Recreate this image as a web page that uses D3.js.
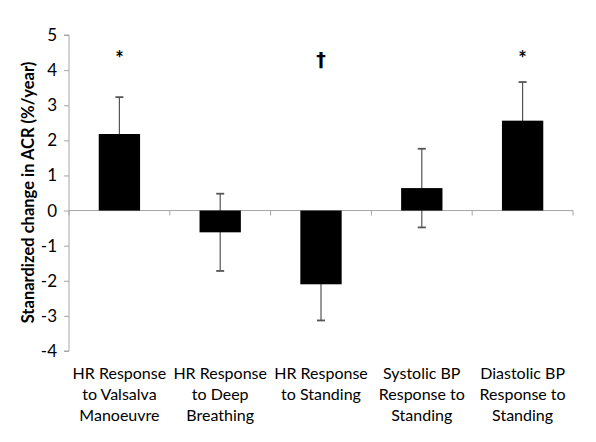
<!DOCTYPE html>
<html><head><meta charset="utf-8">
<script src="https://cdn.jsdelivr.net/npm/d3@7"></script>
<style>body{margin:0;background:#fff}svg{display:block}</style>
</head><body>
<svg id="c" width="596" height="442"></svg>
<script>
const categories = [
  ["HR Response","to Valsalva","Manoeuvre"],
  ["HR Response","to Deep","Breathing"],
  ["HR Response","to Standing"],
  ["Systolic BP","Response to","Standing"],
  ["Diastolic BP","Response to","Standing"]
];
const values = [2.18, -0.62, -2.10, 0.64, 2.56];
const errors = [1.05, 1.10, 1.03, 1.12, 1.10];
const marks = ["*", "", "\u2020", "", "*"];
const yTicks = [5,4,3,2,1,0,-1,-2,-3,-4];
const yLabel = "Stanardized change in ACR (%/year)";

const svg = d3.select("#c");
const font = "Lato, 'Open Sans', sans-serif";
const mLeft = 69, mRight = 573, mTop = 35, mBottom = 351;
const x = d3.scaleBand().domain(d3.range(categories.length)).range([mLeft, mRight]).padding(0);
const y = d3.scaleLinear().domain([-4, 5]).range([mBottom, mTop]);
const bw = x.bandwidth() * 0.41;
const axisColor = "#a6a6a6";

// y axis
const yAxis = svg.append("g").attr("transform", `translate(${mLeft},0)`)
  .call(d3.axisLeft(y).tickValues(yTicks).tickSize(5).tickPadding(7).tickFormat(d3.format("d")));
yAxis.select(".domain").attr("stroke", axisColor).attr("d", `M-5,${mBottom}H0V${mTop}H-5`);
yAxis.selectAll(".tick line").attr("stroke", axisColor);
yAxis.selectAll("text").attr("font-family", font).attr("font-size", 17).attr("fill", "#000")
  .text(d => d < 0 ? "-" + Math.abs(d) : d);

// x axis at zero
const xTicks = d3.range(categories.length + 1).map(i => mLeft + i * x.step());
svg.append("line").attr("x1", mLeft).attr("x2", mRight).attr("y1", y(0)).attr("y2", y(0)).attr("stroke", axisColor);
svg.selectAll(".xt").data(xTicks).enter().append("line")
  .attr("x1", d => d).attr("x2", d => d).attr("y1", y(0)).attr("y2", y(0) + 5).attr("stroke", axisColor);

// error bars (behind bars)
const eg = svg.append("g").attr("stroke", "#555").attr("stroke-width", 1.2);
values.forEach((v, i) => {
  const cx = x(i) + x.bandwidth() / 2;
  eg.append("line").attr("x1", cx).attr("x2", cx).attr("y1", y(v - errors[i])).attr("y2", y(v + errors[i]));
  [v - errors[i], v + errors[i]].forEach(e => {
    eg.append("line").attr("x1", cx - 4).attr("x2", cx + 4).attr("y1", y(e)).attr("y2", y(e)).attr("stroke-width", 1.8);
  });
});

// bars
svg.selectAll(".bar").data(values).enter().append("rect")
  .attr("x", (d, i) => x(i) + (x.bandwidth() - bw) / 2)
  .attr("width", bw)
  .attr("y", d => y(Math.max(0, d)))
  .attr("height", d => Math.abs(y(d) - y(0)))
  .attr("fill", "#000");

// significance marks
svg.selectAll(".mk").data(marks).enter().append("text")
  .attr("x", (d, i) => x(i) + x.bandwidth() / 2)
  .attr("y", 66)
  .attr("text-anchor", "middle").attr("fill", "#000")
  .attr("font-family", d => d === "*" ? font : "'DejaVu Sans', sans-serif")
  .attr("font-size", d => d === "*" ? 20 : 19).attr("font-weight", "bold")
  .text(d => d);

// category labels
categories.forEach((lines, i) => {
  const t = svg.append("text").attr("text-anchor", "middle").attr("font-family", font).attr("font-size", 16)
    .attr("x", x(i) + x.bandwidth() / 2);
  lines.forEach((l, j) => t.append("tspan").attr("x", x(i) + x.bandwidth() / 2).attr("y", 379 + j * 21).text(l));
});

// y label
svg.append("text").attr("transform", `translate(34,${(67 + 318) / 2}) rotate(-90)`)
  .attr("text-anchor", "middle").attr("font-family", font).attr("font-size", 16.5).attr("font-weight", "bold")
  .text(yLabel);
</script>
</body></html>
